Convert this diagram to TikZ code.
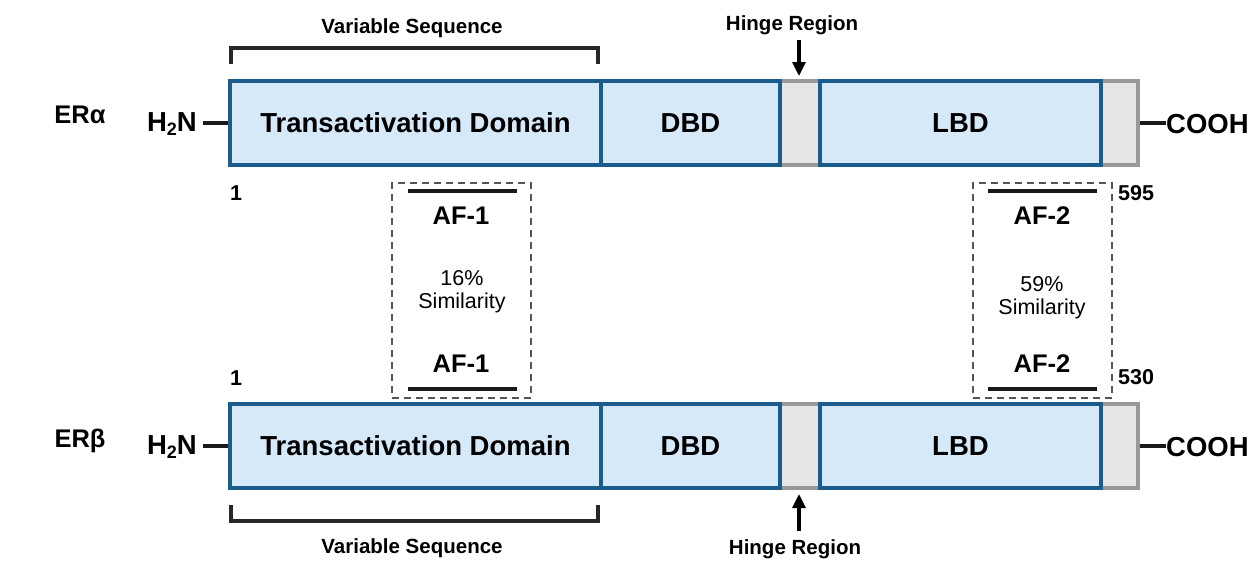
\documentclass[tikz,border=0pt]{standalone}
\usepackage{fontspec}
\setmainfont{Liberation Sans}
\usetikzlibrary{arrows.meta}
\definecolor{domfill}{HTML}{D6E9F8}
\definecolor{domline}{HTML}{1B5C8C}
\definecolor{hfill}{HTML}{E6E6E6}
\definecolor{hline}{HTML}{999999}
\definecolor{dashc}{HTML}{555555}
\tikzset{
  bar/.style={draw=hline, fill=hfill, line width=3.4pt, minimum width=908pt, minimum height=84pt, inner sep=0pt},
  dom/.style={draw=domline, fill=domfill, line width=3.2pt, minimum height=84pt, inner sep=0pt, font=\fontsize{27.5}{30}\selectfont\bfseries},
  term/.style={inner sep=0pt, font=\fontsize{27.5}{30}\selectfont\bfseries},
  iso/.style={inner sep=0pt, font=\fontsize{25.5}{28}\selectfont\bfseries},
  lab/.style={inner sep=0pt, font=\fontsize{20.5}{24}\selectfont\bfseries},
  num/.style={inner sep=0pt, font=\fontsize{21.5}{24}\selectfont\bfseries},
  af/.style={inner sep=0pt, font=\fontsize{25.5}{28}\selectfont\bfseries},
  sim/.style={inner sep=0pt, align=center, font=\fontsize{21.5}{24}\selectfont},
  dbox/.style={draw=dashc, dashed, dash pattern=on 7pt off 5pt, line width=1.8pt, minimum width=139pt, minimum height=215pt, inner sep=0pt},
  afline/.style={line width=4.5pt, black!90},
  brk/.style={line width=4pt, black!85},
  conn/.style={line width=3.4pt, black!90},
  harrow/.style={line width=3.2pt, -{Triangle[length=14pt,width=13pt]}},
}
\begin{document}
\begin{tikzpicture}[x=1pt,y=-1pt]
\useasboundingbox (0,0) rectangle (1254,563);
% ---------- ER alpha ----------
\node[iso] (era) at (80,115) {ERα};
\node[bar] (barA) at (684,123) {};
\node[dom, minimum width=371pt] (tadA) at (415.5,123) {Transactivation Domain};
\node[dom, minimum width=179pt] (dbdA) at (690.5,123) {DBD};
\node[dom, minimum width=281pt] (lbdA) at (960.5,123) {LBD};
\node[term, anchor=east] (nA) at (197,124) {H{\fontsize{18}{20}\selectfont\raisebox{-4pt}{2}}N};
\node[term, anchor=west] (cA) at (1166,124) {COOH};
\draw[conn] ([xshift=6pt]nA.east |- barA.west) -- (barA.west);
\draw[conn] (barA.east) -- (cA.west |- barA.east);
\coordinate (vA1) at (231,64); \coordinate (vA2) at (231,48);
\coordinate (vA3) at (598,48); \coordinate (vA4) at (598,64);
\draw[brk] (vA1) -- (vA2) -- (vA3) -- (vA4);
\node[lab] (vsA) at (412,28) {Variable Sequence};
\node[lab] (hrA) at (792,25) {Hinge Region};
\coordinate (haA) at (799,40);
\coordinate (hbA) at (799,76);
\draw[harrow] (haA) -- (hbA);
\node[num] (oneA) at (236,193) {1};
\node[num, anchor=west] (endA) at (1118,193) {595};
% ---------- ER beta ----------
\node[iso] (erb) at (80,441) {ERβ};
\node[bar] (barB) at (684,446) {};
\node[dom, minimum width=371pt] (tadB) at (415.5,446) {Transactivation Domain};
\node[dom, minimum width=179pt] (dbdB) at (690.5,446) {DBD};
\node[dom, minimum width=281pt] (lbdB) at (960.5,446) {LBD};
\node[term, anchor=east] (nB) at (197,447) {H{\fontsize{18}{20}\selectfont\raisebox{-4pt}{2}}N};
\node[term, anchor=west] (cB) at (1166,447) {COOH};
\draw[conn] ([xshift=6pt]nB.east |- barB.west) -- (barB.west);
\draw[conn] (barB.east) -- (cB.west |- barB.east);
\coordinate (vB1) at (231,505); \coordinate (vB2) at (231,521);
\coordinate (vB3) at (598,521); \coordinate (vB4) at (598,505);
\draw[brk] (vB1) -- (vB2) -- (vB3) -- (vB4);
\node[lab] (vsB) at (412,548) {Variable Sequence};
\node[lab] (hrB) at (795,549) {Hinge Region};
\coordinate (haB) at (799,531);
\coordinate (hbB) at (799,494);
\draw[harrow] (haB) -- (hbB);
\node[num] (oneB) at (236,378) {1};
\node[num, anchor=west] (endB) at (1118,377) {530};
% ---------- AF-1 ----------
\node[dbox] (box1) at (461.5,290.5) {};
\coordinate (a1l) at (408,191); \coordinate (a1r) at (517,191);
\coordinate (b1l) at (408,389); \coordinate (b1r) at (517,389);
\draw[afline] (a1l) -- (a1r);
\draw[afline] (b1l) -- (b1r);
\node[af] (af1t) at (461,216) {AF-1};
\node[af] (af1b) at (461,364) {AF-1};
\node[sim] (sim1) at (462,292) {16\%\\[-1pt]Similarity};
% ---------- AF-2 ----------
\node[dbox] (box2) at (1042.5,290.5) {};
\coordinate (a2l) at (988,191); \coordinate (a2r) at (1097,191);
\coordinate (b2l) at (988,389); \coordinate (b2r) at (1097,389);
\draw[afline] (a2l) -- (a2r);
\draw[afline] (b2l) -- (b2r);
\node[af] (af2t) at (1042,216) {AF-2};
\node[af] (af2b) at (1042,364) {AF-2};
\node[sim] (sim2) at (1042,298) {59\%\\[-1pt]Similarity};
\end{tikzpicture}
\end{document}
